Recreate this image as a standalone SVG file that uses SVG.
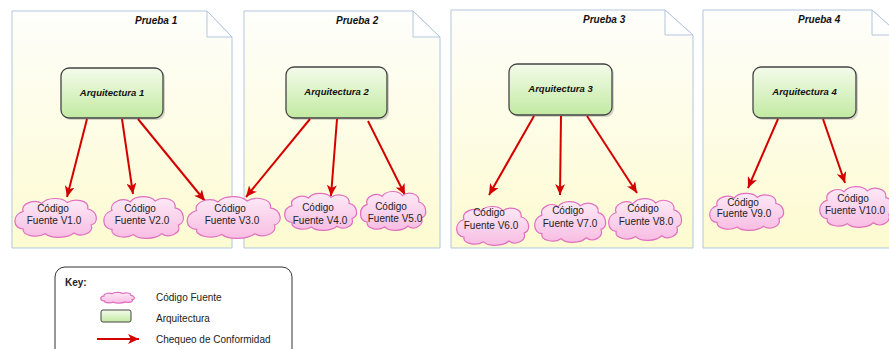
<svg xmlns="http://www.w3.org/2000/svg" xmlns:xlink="http://www.w3.org/1999/xlink" width="889" height="349" viewBox="0 0 889 349">
<style>
.page{fill:url(#gPage);stroke:#b3c6df;stroke-width:1}
.fold{fill:#ffffff;stroke:#b3c6df;stroke-width:1}
.title{font-family:"Liberation Sans",Arial,sans-serif;font-size:10px;font-weight:bold;font-style:italic;fill:#111}
.arch{fill:url(#gArch);stroke:#444;stroke-width:1.3}
.shadow{fill:#8a8a8a;opacity:0.35}
.atext{font-family:"Liberation Sans",Arial,sans-serif;font-size:9.5px;font-weight:bold;font-style:italic;fill:#111;text-anchor:middle}
.cloud{fill:url(#gCloud);stroke:#e070bf}
.ctext{font-family:"Liberation Sans",Arial,sans-serif;font-size:10px;fill:#222;text-anchor:middle}
.edge{stroke:#d40000;stroke-width:2;fill:none;marker-end:url(#ah)}
.ktext{font-family:"Liberation Sans",Arial,sans-serif;font-size:10px;fill:#222}
</style>
<defs>
<linearGradient id="gPage" x1="0" y1="0" x2="0" y2="1"><stop offset="0" stop-color="#fefefb"/><stop offset="1" stop-color="#fdfbd0"/></linearGradient>
<linearGradient id="gArch" x1="0" y1="0" x2="0" y2="1"><stop offset="0" stop-color="#f4fbea"/><stop offset="1" stop-color="#c2eaa2"/></linearGradient>
<linearGradient id="gCloud" x1="0" y1="0" x2="0" y2="1"><stop offset="0" stop-color="#fdeaf6"/><stop offset="1" stop-color="#f8bde3"/></linearGradient>
<path id="cloudShape" vector-effect="non-scaling-stroke" stroke-width="1.2" d="M12 18 C8 8 26 2 34 8 C40 0 58 0 64 7 C72 1 90 4 88 15 C99 17 102 32 92 35 C96 45 80 51 72 45 C64 52 44 52 38 46 C28 52 10 48 12 40 C0 40 -2 22 12 18 Z"/>
<marker id="ah" markerWidth="12" markerHeight="10" refX="11" refY="5" orient="auto" markerUnits="userSpaceOnUse"><path d="M0 0 L11 5 L0 10 L3 5 Z" fill="#d40000"/></marker>
</defs>

<g id="prueba1">
<path class="page" d="M12 11 H207 L232 37 V248 H12 Z"/>
<path class="fold" d="M207 11 V37 H232 Z"/>
<text class="title" x="135" y="23.5">Prueba 1</text>
</g>
<g id="prueba2">
<path class="page" d="M244 11 H413 L440 37 V248 H244 Z"/>
<path class="fold" d="M413 11 V37 H440 Z"/>
<text class="title" x="336" y="23.5">Prueba  2</text>
</g>
<g id="prueba3">
<path class="page" d="M451 10 H665 L693 35 V248 H451 Z"/>
<path class="fold" d="M665 10 V35 H693 Z"/>
<text class="title" x="583" y="23">Prueba  3</text>
</g>
<g id="prueba4">
<path class="page" d="M703 10 H872 L900 35 V248 H703 Z"/>
<path class="fold" d="M872 10 V35 H900 Z"/>
<text class="title" x="798" y="23">Prueba  4</text>
</g>

<g id="arq1"><rect class="shadow" x="63" y="70" width="102" height="50" rx="8"/><rect class="arch" x="61" y="68" width="102" height="50" rx="8"/><text class="atext" x="112" y="95.5">Arquitectura 1</text></g>
<g id="arq2"><rect class="shadow" x="288" y="69" width="101" height="51" rx="8"/><rect class="arch" x="286" y="67" width="101" height="51" rx="8"/><text class="atext" x="336.5" y="95">Arquitectura 2</text></g>
<g id="arq3"><rect class="shadow" x="511" y="66" width="103" height="51" rx="8"/><rect class="arch" x="509" y="64" width="103" height="51" rx="8"/><text class="atext" x="560.5" y="92">Arquitectura 3</text></g>
<g id="arq4"><rect class="shadow" x="755" y="69" width="103" height="51" rx="8"/><rect class="arch" x="753" y="67" width="103" height="51" rx="8"/><text class="atext" x="804.5" y="95">Arquitectura 4</text></g>

<g id="edges">
<line class="edge" x1="87" y1="119" x2="67" y2="197"/>
<line class="edge" x1="122" y1="119" x2="133" y2="194"/>
<line class="edge" x1="138" y1="119" x2="205" y2="201"/>
<line class="edge" x1="310" y1="119" x2="246" y2="197"/>
<line class="edge" x1="337" y1="119" x2="331" y2="196"/>
<line class="edge" x1="368" y1="121" x2="405" y2="195"/>
<line class="edge" x1="534" y1="116" x2="489" y2="195"/>
<line class="edge" x1="561" y1="116" x2="560" y2="195"/>
<line class="edge" x1="587" y1="116" x2="637" y2="193"/>
<line class="edge" x1="778" y1="119" x2="748" y2="188"/>
<line class="edge" x1="823" y1="119" x2="845" y2="183"/>
</g>

<g id="v1"><use href="#cloudShape" class="cloud" transform="translate(13,197) scale(0.85,0.80)"/><text class="ctext" x="53" y="211.5">Código</text><text class="ctext" x="54" y="223.5">Fuente V1.0</text></g>
<g id="v2"><use href="#cloudShape" class="cloud" transform="translate(102,195) scale(0.83,0.86)"/><text class="ctext" x="140" y="211.5">Código</text><text class="ctext" x="142" y="223.5">Fuente V2.0</text></g>
<g id="v3"><use href="#cloudShape" class="cloud" transform="translate(185,195) scale(0.97,0.86)"/><text class="ctext" x="230" y="211.5">Código</text><text class="ctext" x="232" y="223.5">Fuente V3.0</text></g>
<g id="v4"><use href="#cloudShape" class="cloud" transform="translate(283,192) scale(0.75,0.76)"/><text class="ctext" x="318" y="210.5">Código</text><text class="ctext" x="320" y="223.5">Fuente V4.0</text></g>
<g id="v5"><use href="#cloudShape" class="cloud" transform="translate(359,190) scale(0.68,0.80)"/><text class="ctext" x="391" y="209.5">Código</text><text class="ctext" x="395" y="221.5">Fuente V5.0</text></g>
<g id="v6"><use href="#cloudShape" class="cloud" transform="translate(455,205) scale(0.75,0.80)"/><text class="ctext" x="489" y="215.5">Código</text><text class="ctext" x="491" y="228.5">Fuente V6.0</text></g>
<g id="v7"><use href="#cloudShape" class="cloud" transform="translate(533,200) scale(0.74,0.84)"/><text class="ctext" x="568" y="213.5">Código</text><text class="ctext" x="570" y="226.5">Fuente V7.0</text></g>
<g id="v8"><use href="#cloudShape" class="cloud" transform="translate(607,197) scale(0.76,0.86)"/><text class="ctext" x="643" y="211.5">Código</text><text class="ctext" x="646" y="224.5">Fuente V8.0</text></g>
<g id="v9"><use href="#cloudShape" class="cloud" transform="translate(708,192) scale(0.77,0.76)"/><text class="ctext" x="743" y="205.5">Código</text><text class="ctext" x="744" y="216.5">Fuente V9.0</text></g>
<g id="v10"><use href="#cloudShape" class="cloud" transform="translate(818,185) scale(0.77,0.84)"/><text class="ctext" x="853" y="201.5">Código</text><text class="ctext" x="855" y="213.5">Fuente V10.0</text></g>

<g id="key">
<rect x="55" y="267" width="237" height="100" rx="10" fill="#ffffff" stroke="#333" stroke-width="1"/>
<text class="ktext" x="65" y="285.5" font-weight="bold">Key:</text>
<use href="#cloudShape" class="cloud" transform="translate(100,292) scale(0.35,0.22)"/>
<text class="ktext" x="156" y="300.5">Código Fuente</text>
<rect x="101" y="310" width="30" height="12" rx="2" fill="url(#gArch)" stroke="#444" stroke-width="1"/>
<text class="ktext" x="156" y="321.5">Arquitectura</text>
<line class="edge" x1="97" y1="339" x2="139" y2="339"/>
<text class="ktext" x="156" y="342.5">Chequeo de Conformidad</text>
</g>
</svg>
